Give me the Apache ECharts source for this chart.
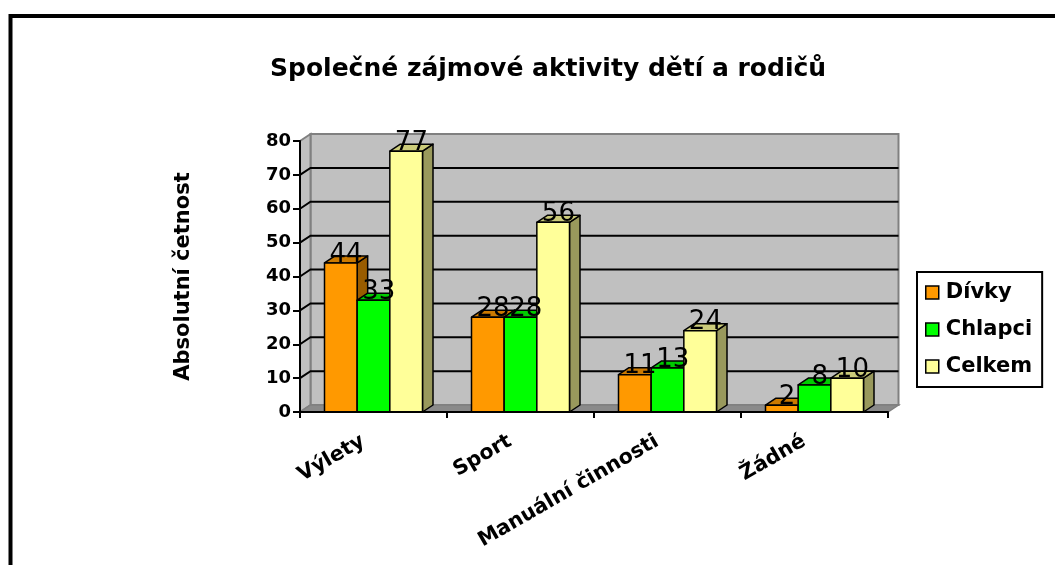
<!DOCTYPE html>
<html>
<head>
<meta charset="utf-8">
<script src="https://cdn.jsdelivr.net/npm/echarts@6/dist/echarts.min.js"></script>
<style>
html,body{margin:0;padding:0;background:#fff;}
#chart{width:1055px;height:565px;}
</style>
</head>
<body>
<div id="chart"></div>
<script>
// ---- data ----
const categories = ['Výlety', 'Sport', 'Manuální činnosti', 'Žádné'];
const seriesNames = ['Dívky', 'Chlapci', 'Celkem'];
const divky = [44, 28, 11, 2];
const chlapci = [33, 28, 13, 8];
const celkem = [77, 56, 24, 10];
const yTicks = [0, 10, 20, 30, 40, 50, 60, 70, 80];
const titleText = 'Společné zájmové aktivity dětí a rodičů';
const yAxisTitle = 'Absolutní četnost';

// ---- style ----
const FONT = '"DejaVu Sans", "Liberation Sans", Arial, sans-serif';
const DX = 10.5, DY = -7;
const palettes = [
  ['#ff9900', '#cc7a00', '#995c00'],
  ['#00ff00', '#00cc00', '#009900'],
  ['#ffff99', '#cccc7a', '#99995c']
];

function barRenderer(k, colors) {
  return function (params, api) {
    const idx = api.value(0), val = api.value(1);
    const base = api.coord([idx, 0]);
    const topP = api.coord([idx, val]);
    const band = api.size([1, 0])[0];
    const w = band / 4.5;
    const left = base[0] - band / 2 + 0.75 * w + k * w;
    const right = left + w;
    const ty = topP[1], by = base[1];
    const st = { stroke: '#000', lineWidth: 1.5, lineJoin: 'round' };
    return {
      type: 'group',
      children: [
        { type: 'polygon', shape: { points: [[right, by], [right, ty], [right + DX, ty + DY], [right + DX, by + DY]] },
          style: Object.assign({ fill: colors[2] }, st) },
        { type: 'polygon', shape: { points: [[left, ty], [right, ty], [right + DX, ty + DY], [left + DX, ty + DY]] },
          style: Object.assign({ fill: colors[1] }, st) },
        { type: 'rect', shape: { x: left, y: ty, width: w, height: by - ty },
          style: Object.assign({ fill: colors[0] }, st) },
        { type: 'text', z2: 100,
          style: { text: String(val), x: left + w / 2 + DX / 2, y: ty - 8, align: 'center', verticalAlign: 'middle',
                   fontSize: 26, fontFamily: FONT, fill: '#000' } }
      ]
    };
  };
}

function wallRenderer(params, api) {
  const cs = params.coordSys;
  const x = cs.x, y = cs.y, w = cs.width, h = cs.height;
  const children = [
    { type: 'rect', shape: { x: x + DX, y: y + DY, width: w, height: h },
      style: { fill: '#c0c0c0', stroke: '#808080', lineWidth: 2 } },
    { type: 'polygon', shape: { points: [[x, y], [x + DX, y + DY], [x + DX, y + h + DY], [x, y + h]] },
      style: { fill: '#c0c0c0', stroke: '#808080', lineWidth: 2 } },
    { type: 'polygon', shape: { points: [[x, y + h], [x + DX, y + h + DY], [x + w + DX, y + h + DY], [x + w, y + h]] },
      style: { fill: '#8a8a8a', stroke: '#808080', lineWidth: 1.5 } }
  ];
  for (let i = 1; i < yTicks.length - 1; i++) {
    const yy = api.coord([0, yTicks[i]])[1];
    children.push({ type: 'polyline', shape: { points: [[x, yy], [x + DX, yy + DY], [x + w + DX, yy + DY]] },
      style: { stroke: '#000', lineWidth: 2, fill: null } });
  }
  return { type: 'group', children: children };
}

const valueSets = [divky, chlapci, celkem];
const series = [{
  type: 'custom', name: 'walls', z: 1, silent: true,
  renderItem: wallRenderer, data: [[0, 0]], encode: { x: 0, y: 1 }
}];
valueSets.forEach(function (vals, k) {
  series.push({
    type: 'custom', name: seriesNames[k], z: 2,
    itemStyle: { color: palettes[k][0] },
    renderItem: barRenderer(k, palettes[k]),
    data: vals.map(function (v, i) { return [i, v]; }),
    encode: { x: 0, y: 1 }
  });
});

const chart = echarts.init(document.getElementById('chart'));
chart.setOption({
  animation: false,
  backgroundColor: '#fff',
  textStyle: { fontFamily: FONT },
  title: {
    text: titleText, left: 265, top: 52,
    textStyle: { fontFamily: FONT, fontWeight: 'bold', fontSize: 25, color: '#000' }
  },
  legend: {
    data: seriesNames, orient: 'vertical', left: 917, top: 272,
    selectedMode: false, icon: 'rect', itemWidth: 13, itemHeight: 13, itemGap: 16,
    padding: [10, 10, 10, 8],
    borderColor: '#000', borderWidth: 2,
    itemStyle: { borderColor: '#000', borderWidth: 1.5 },
    textStyle: { fontFamily: FONT, fontWeight: 'bold', fontSize: 21, color: '#000', padding: [0, 0, 0, 2] }
  },
  graphic: [{
    type: 'rect', shape: { x: 10.5, y: 16, width: 1100, height: 600 },
    style: { fill: null, stroke: '#000', lineWidth: 4 }, silent: true, z: 100
  }],
  grid: { left: 300, top: 141, right: 167, bottom: 153, containLabel: false },
  xAxis: {
    type: 'category', data: categories, z: 5,
    axisLine: { lineStyle: { color: '#000', width: 2 } },
    axisTick: { show: true, length: 6, lineStyle: { color: '#000', width: 2 } },
    axisLabel: { rotate: 30, margin: 22, padding: [0, 12, 0, 0], interval: 0,
      fontFamily: FONT, fontWeight: 'bold', fontSize: 20.5, color: '#000' },
    splitLine: { show: false }
  },
  yAxis: {
    type: 'value', min: yTicks[0], max: yTicks[yTicks.length - 1], interval: yTicks[1] - yTicks[0], z: 5,
    name: yAxisTitle, nameLocation: 'middle', nameRotate: 90, nameGap: 106,
    nameTextStyle: { fontFamily: FONT, fontWeight: 'bold', fontSize: 21, color: '#000' },
    axisLine: { show: true, lineStyle: { color: '#000', width: 2 } },
    axisTick: { show: true, inside: false, length: 7, lineStyle: { color: '#000', width: 2 } },
    axisLabel: { margin: 9, fontFamily: FONT, fontWeight: 'bold', fontSize: 18, color: '#000' },
    splitLine: { show: false }
  },
  series: series
});
</script>
</body>
</html>
